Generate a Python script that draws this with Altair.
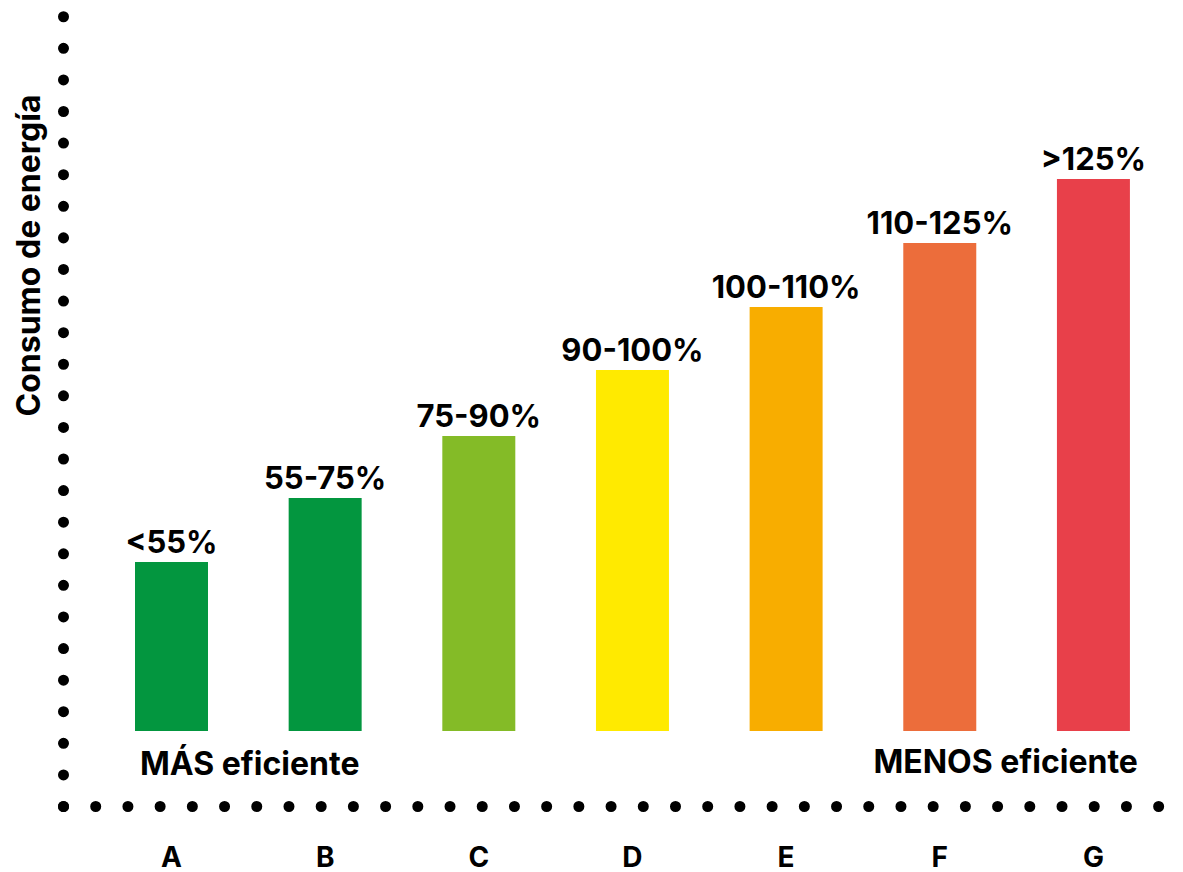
import altair as alt
import pandas as pd

# ---- data ----
categories = ["A", "B", "C", "D", "E", "F", "G"]
consumo = [169, 233, 295, 361, 424, 488, 552]          # bar heights (relative units)
etiquetas = ["<55%", "55-75%", "75-90%", "90-100%", "100-110%", "110-125%", ">125%"]
colores = ["#03963F", "#03963F", "#84BB27", "#FFEA00", "#F8AD00", "#EC6D3B", "#E8404A"]

anot_izq = ["MÁS eficiente"]
anot_der = ["MENOS eficiente"]
anot_y = -44

FONT = "Inter"
W, H = 1112, 790

df = pd.DataFrame({"cat": categories, "valor": consumo, "etiqueta": etiquetas, "color": colores})

xscale = alt.Scale(domain=categories, paddingInner=0.525, paddingOuter=0.381, align=0.615)
yscale = alt.Scale(domain=[-75, 715], nice=False, zero=False)

x_axis = alt.Axis(
    title=None, labelAngle=0, ticks=False, grid=False,
    labelFont=FONT, labelFontSize=28, labelFontWeight="bold", labelColor="black",
    labelBaseline="alphabetic", labelPadding=60,
    domain=True, domainColor="black", domainWidth=11, domainCap="round",
    domainDash=[0.01, 32.2],
)
y_axis = alt.Axis(
    title="Consumo de energía", labels=False, ticks=False, grid=False,
    titleFont=FONT, titleFontSize=32, titleFontWeight="bold", titleColor="black",
    titleAngle=270, titleAlign="left", titleBaseline="alphabetic",
    titleX=-24, titleY=400,
    domain=True, domainColor="black", domainWidth=11, domainCap="round",
    domainDash=[0.01, 31.58],
)

bars = alt.Chart(df).mark_bar().encode(
    x=alt.X("cat:N", scale=xscale, axis=x_axis, sort=categories),
    y=alt.Y("valor:Q", scale=yscale, axis=y_axis),
    color=alt.Color("color:N", scale=None),
)

labels = alt.Chart(df).mark_text(
    font=FONT, fontSize=31, fontWeight="bold", color="black",
    baseline="alphabetic", align="center", dy=-9,
).encode(
    x=alt.X("cat:N", scale=xscale, sort=categories),
    y=alt.Y("valor:Q", scale=yscale),
    text="etiqueta:N",
)

izq = alt.Chart(pd.DataFrame({"cat": [categories[0]], "y": [anot_y], "t": anot_izq})).mark_text(
    font=FONT, fontSize=32, fontWeight="bold", color="black",
    baseline="alphabetic", align="left", dx=5,
).encode(
    x=alt.X("cat:N", scale=xscale, bandPosition=0),
    y=alt.Y("y:Q", scale=yscale),
    text="t:N",
)

der = alt.Chart(pd.DataFrame({"cat": [categories[-1]], "y": [anot_y + 2], "t": anot_der})).mark_text(
    font=FONT, fontSize=32, fontWeight="bold", color="black",
    baseline="alphabetic", align="right", dx=8,
).encode(
    x=alt.X("cat:N", scale=xscale, bandPosition=1),
    y=alt.Y("y:Q", scale=yscale),
    text="t:N",
)

chart = alt.layer(bars, labels, izq, der).properties(
    width=W, height=H,
    autosize=alt.AutoSizeParams(type="none"),
    padding={"left": 55, "top": 8, "right": 0, "bottom": 66},
    background="white",
).configure_view(stroke=None)

chart.save("out.html", embed_options={"renderer": "svg", "actions": False})
